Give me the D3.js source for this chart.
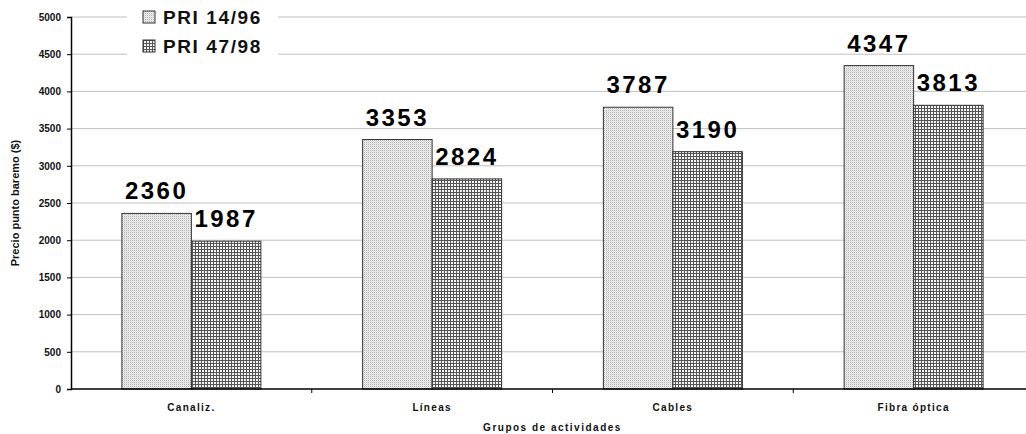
<!DOCTYPE html>
<html>
<head>
<meta charset="utf-8">
<script src="https://cdn.jsdelivr.net/npm/d3@7"></script>
<style>
body{margin:0;background:#fff;}
text{font-family:"Liberation Sans",Arial,sans-serif;}
</style>
</head>
<body>
<script>
// chart data
var categories=["Canaliz.","Líneas","Cables","Fibra óptica"];
var seriesNames=["PRI 14/96","PRI 47/98"];
var pri1496=[2360,3353,3787,4347];
var pri4798=[1987,2824,3190,3813];
var yTicks=[0,500,1000,1500,2000,2500,3000,3500,4000,4500,5000];

var width=1026,height=434;
var pLeft=71,pRight=1034,pTop=17,pBottom=389;

var svg=d3.select("body").append("svg")
.attr("width",width).attr("height",height);

var defs=svg.append("defs");

// light stipple
var p1=defs.append("pattern").attr("id","pat1").attr("patternUnits","userSpaceOnUse")
.attr("width",2).attr("height",2);
p1.append("rect").attr("width",2).attr("height",2).attr("fill","#f2f2f2");
p1.append("rect").attr("x",0).attr("y",0).attr("width",1).attr("height",1).attr("fill","#b0b0b0");
p1.append("rect").attr("x",1).attr("y",1).attr("width",1).attr("height",1).attr("fill","#d8d8d8");

// mesh
var p2=defs.append("pattern").attr("id","pat2").attr("patternUnits","userSpaceOnUse")
.attr("width",3).attr("height",3);
p2.append("rect").attr("width",3).attr("height",3).attr("fill","#f4f4f4");
p2.append("rect").attr("x",0).attr("y",0).attr("width",3).attr("height",1).attr("fill","#555");
p2.append("rect").attr("x",0).attr("y",0).attr("width",1).attr("height",3).attr("fill","#555");

var x=d3.scaleBand().domain(categories).range([pLeft,pRight]);
var y=d3.scaleLinear().domain([0,5000]).range([pBottom,pTop]);

// gridlines
svg.append("g").selectAll("line").data(yTicks.slice(1)).enter().append("line")
.attr("x1",pLeft).attr("x2",width)
.attr("y1",function(d){return y(d)}).attr("y2",function(d){return y(d)})
.attr("stroke","#c0c0c0").attr("stroke-width",1);

var bw=69.5;
var groups=svg.append("g").selectAll("g").data(categories).enter().append("g");

groups.append("rect")
.attr("x",function(d){return x(d)+x.bandwidth()/2-bw})
.attr("y",function(d,i){return y(pri1496[i])})
.attr("width",bw)
.attr("height",function(d,i){return pBottom-y(pri1496[i])})
.attr("fill","url(#pat1)").attr("stroke","#333").attr("stroke-width",1);

groups.append("rect")
.attr("x",function(d){return x(d)+x.bandwidth()/2})
.attr("y",function(d,i){return y(pri4798[i])})
.attr("width",bw)
.attr("height",function(d,i){return pBottom-y(pri4798[i])})
.attr("fill","url(#pat2)").attr("stroke","#333").attr("stroke-width",1);

groups.append("text")
.attr("x",function(d){return x(d)+x.bandwidth()/2-bw/2})
.attr("y",function(d,i){return y(pri1496[i])-14})
.attr("text-anchor","middle").attr("font-size",24).attr("font-weight","bold")
.attr("letter-spacing",2.5)
.text(function(d,i){return pri1496[i]});

groups.append("text")
.attr("x",function(d){return x(d)+x.bandwidth()/2+bw/2})
.attr("y",function(d,i){return y(pri4798[i])-14})
.attr("text-anchor","middle").attr("font-size",24).attr("font-weight","bold")
.attr("letter-spacing",2.5)
.text(function(d,i){return pri4798[i]});

// y axis
var yAxis=svg.append("g").attr("transform","translate("+pLeft+",0)")
.call(d3.axisLeft(y).tickValues(yTicks).tickFormat(d3.format("d")).tickSize(4).tickPadding(6));
yAxis.select(".domain").attr("stroke","#000").attr("stroke-width",1.5);
yAxis.selectAll("text").attr("font-size",10).attr("font-weight","bold")
.attr("font-family","Liberation Sans, Arial, sans-serif").attr("fill","#111");

// x axis
var xAxis=svg.append("g").attr("transform","translate(0,"+pBottom+")");
xAxis.append("line").attr("x1",pLeft).attr("x2",width).attr("y1",0).attr("y2",0)
.attr("stroke","#000").attr("stroke-width",1.5);
xAxis.selectAll(".tk").data(categories.slice(1)).enter().append("line")
.attr("x1",function(d){return x(d)}).attr("x2",function(d){return x(d)})
.attr("y1",0).attr("y2",4).attr("stroke","#000");
xAxis.selectAll(".lbl").data(categories).enter().append("text")
.attr("x",function(d){return x(d)+x.bandwidth()/2})
.attr("y",22).attr("text-anchor","middle")
.attr("font-size",10).attr("font-weight","bold").attr("letter-spacing",1.3).attr("fill","#111")
.text(function(d){return d});

// axis titles
svg.append("text").attr("x",(pLeft+pRight)/2).attr("y",431)
.attr("text-anchor","middle").attr("font-size",10).attr("font-weight","bold")
.attr("letter-spacing",1.5).attr("fill","#111").text("Grupos de actividades");

svg.append("text").attr("transform","translate(19,"+((pTop+pBottom)/2)+") rotate(-90)")
.attr("text-anchor","middle").attr("font-size",11).attr("font-weight","bold")
.attr("fill","#111").text("Precio punto baremo ($)");

// legend
var lg=svg.append("g");
lg.append("rect").attr("x",127).attr("y",4).attr("width",151).attr("height",52).attr("fill","#fff");
var li=lg.selectAll("g").data(seriesNames).enter().append("g")
.attr("transform",function(d,i){return "translate(143,"+(11+i*29)+")"});
li.append("rect").attr("width",12).attr("height",12)
.attr("fill",function(d,i){return i==0?"url(#pat1)":"url(#pat2)"})
.attr("stroke","#333");
li.append("text").attr("x",20).attr("y",13).attr("font-size",19).attr("font-weight","bold")
.attr("letter-spacing",1.6).attr("fill","#111").text(function(d){return d});
</script>
</body>
</html>
